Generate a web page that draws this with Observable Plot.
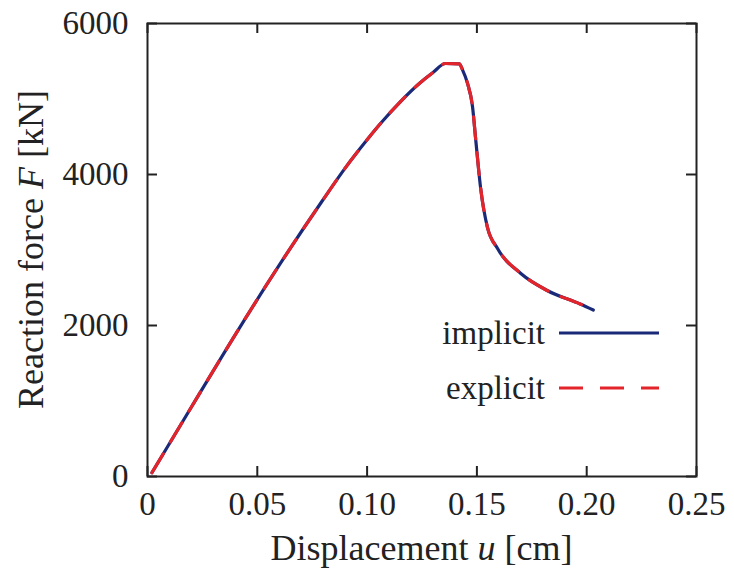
<!DOCTYPE html>
<html><head><meta charset="utf-8">
<script src="https://cdn.jsdelivr.net/npm/d3@7"></script>
<script src="https://cdn.jsdelivr.net/npm/@observablehq/plot@0.6"></script>
<style>
body{margin:0;background:#fff;}
#wrap{position:relative;width:734px;height:583px;}
</style></head><body><div id="wrap"></div>
<script>
// Displacement u [cm]
const displacement = [0.002, 0.02, 0.04, 0.06, 0.0797, 0.09, 0.1, 0.1061, 0.115, 0.1243, 0.130, 0.1357, 0.142, 0.1434, 0.1457, 0.148, 0.1495, 0.1517, 0.1548, 0.1594, 0.17, 0.182, 0.197, 0.203];
// Reaction force F [kN]
const implicitForce = [50, 920, 1880, 2800, 3656, 4085, 4460, 4675, 4960, 5219, 5351, 5470, 5465, 5390, 5210, 4900, 4450, 3820, 3300, 3020, 2689, 2464, 2285, 2205];
const explicitForce = [50, 920, 1880, 2800, 3656, 4085, 4460, 4675, 4960, 5219, 5351, 5470, 5465, 5390, 5210, 4900, 4450, 3820, 3300, 3020, 2689, 2464, 2285, 2205];

const xTicks = [0, 0.05, 0.10, 0.15, 0.20, 0.25];
const xTickLabels = ["0", "0.05", "0.10", "0.15", "0.20", "0.25"];
const yTicks = [0, 2000, 4000, 6000];
const yTickLabels = ["0", "2000", "4000", "6000"];
const seriesNames = ["implicit", "explicit"];
const seriesColors = ["#1b2a78", "#e3242b"];

const implicitRows = displacement.map((u, i) => ({u, F: implicitForce[i]}));
const explicitRows = displacement.map((u, i) => ({u, F: explicitForce[i]}));

const font = "'Liberation Serif', 'DejaVu Serif', serif";
const W = 734, H = 583, mL = 147, mR = 38, mT = 23, mB = 107;
const innerH = H - mT - mB;
const tickLen = 10;
const ink = "#222";

const plot = Plot.plot({
  width: W, height: H,
  marginLeft: mL, marginRight: mR, marginTop: mT, marginBottom: mB,
  style: {fontFamily: font, fontSize: "33px", color: ink, background: "#fff"},
  x: {domain: [0, 0.25]},
  y: {domain: [0, 6000]},
  marks: [
    // inward ticks on all four sides
    Plot.tickX(xTicks, {x: d => d, stroke: ink, strokeWidth: 2, insetTop: innerH - tickLen}),
    Plot.tickX(xTicks, {x: d => d, stroke: ink, strokeWidth: 2, insetBottom: innerH - tickLen}),
    Plot.tickY(yTicks, {y: d => d, stroke: ink, strokeWidth: 2, insetRight: (W - mL - mR) - tickLen}),
    Plot.tickY(yTicks, {y: d => d, stroke: ink, strokeWidth: 2, insetLeft: (W - mL - mR) - tickLen}),
    Plot.axisX({anchor: "bottom", ticks: xTicks, tickSize: 0, tickPadding: 15, label: null,
      tickFormat: d => xTickLabels[xTicks.indexOf(d)], fill: ink}),
    Plot.axisY({anchor: "left", ticks: yTicks, tickSize: 0, tickPadding: 19, label: null,
      tickFormat: d => yTickLabels[yTicks.indexOf(d)], fill: ink}),
    Plot.line(implicitRows, {x: "u", y: "F", stroke: seriesColors[0], strokeWidth: 3.2, curve: "monotone-x"}),
    Plot.line(explicitRows, {x: "u", y: "F", stroke: seriesColors[1], strokeWidth: 3.2, strokeDasharray: "22,14", curve: "monotone-x"}),
    Plot.frame({stroke: ink, strokeWidth: 2})
  ]
});

document.getElementById("wrap").appendChild(plot);

// Axis titles with italic symbols
const svg = d3.select(plot);
const xs = plot.scale("x"), ys = plot.scale("y");
const cx = (xs.range[0] + xs.range[1]) / 2;
const cy = (ys.range[0] + ys.range[1]) / 2;

const xt = svg.append("text").attr("x", cx).attr("y", 560).attr("text-anchor", "middle")
  .style("font-family", font).style("font-size", "36px").attr("fill", ink);
xt.append("tspan").text("Displacement ");
xt.append("tspan").attr("font-style", "italic").text("u");
xt.append("tspan").text(" [cm]");

const yt = svg.append("text").attr("transform", `translate(43,${cy}) rotate(-90)`).attr("text-anchor", "middle")
  .style("font-family", font).style("font-size", "36px").attr("fill", ink);
yt.append("tspan").text("Reaction force ");
yt.append("tspan").attr("font-style", "italic").text("F");
yt.append("tspan").text(" [kN]");

// Legend
const lg = svg.append("g");
const legendY = [333, 388];
seriesNames.forEach((name, i) => {
  lg.append("text").attr("x", 545).attr("y", legendY[i] + 11).attr("text-anchor", "end")
    .style("font-family", font).style("font-size", "33px").attr("fill", ink).text(name);
  const ln = lg.append("line").attr("x1", 559).attr("x2", 659).attr("y1", legendY[i]).attr("y2", legendY[i])
    .attr("stroke", seriesColors[i]).attr("stroke-width", 3.2);
  if (i === 1) ln.attr("stroke-dasharray", "24,17");
});
</script></body></html>
